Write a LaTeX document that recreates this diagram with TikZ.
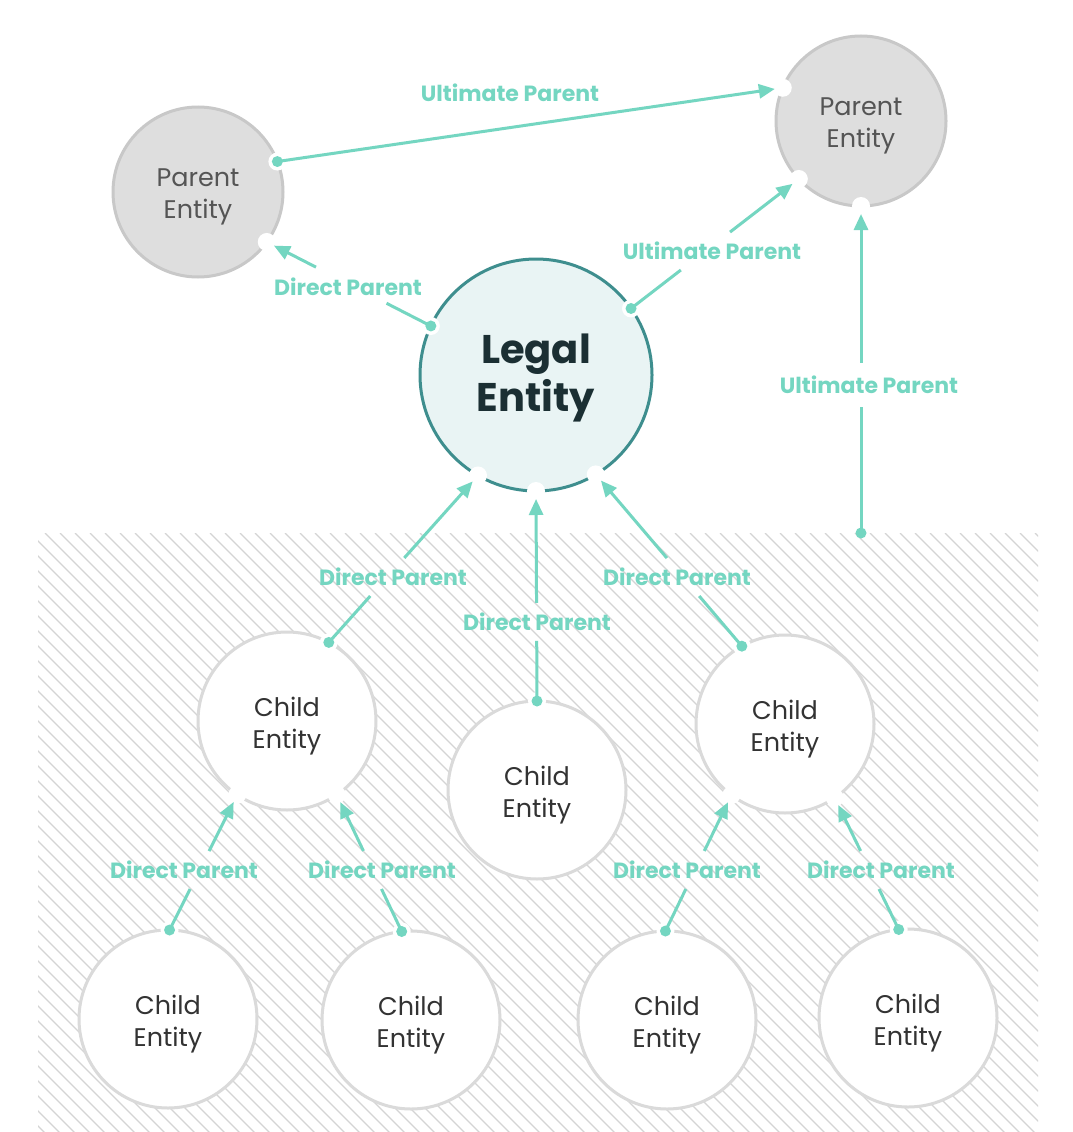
\documentclass[tikz,border=0pt]{standalone}
\usepackage{fontspec}
\setmainfont{Poppins}
\usetikzlibrary{arrows.meta,calc}
\definecolor{tl}{HTML}{74D6C1}
\definecolor{lefill}{HTML}{E9F4F4}
\definecolor{ledraw}{HTML}{3E8E8E}
\definecolor{letext}{HTML}{1B2F33}
\definecolor{pfill}{HTML}{DEDEDE}
\definecolor{pdraw}{HTML}{C8C8C8}
\definecolor{ptext}{HTML}{555555}
\definecolor{cdraw}{HTML}{DADADA}
\definecolor{ctext}{HTML}{333333}
\definecolor{hatchc}{HTML}{D4D4D4}
\newcommand{\drawlnk}[4]{%
  \draw[conn] (#1) -- ($(#1)!#3!(#2)$);
  \draw[arr] ($(#1)!#4!(#2)$) -- (#2);}
\begin{document}
\begin{tikzpicture}[x=1pt,y=-1pt,
  ent/.style={circle, inner sep=0pt, outer sep=0pt, line width=3pt},
  etxt/.style={align=center, inner sep=0pt, yshift=-5pt,
    font=\fontsize{25.5}{32}\selectfont},
  parent/.style={ent, minimum size=170pt, fill=pfill, draw=pdraw},
  child/.style={ent, minimum size=178pt, fill=white, draw=cdraw},
  legal/.style={ent, minimum size=232pt, fill=lefill, draw=ledraw},
  ptxt/.style={etxt, text=ptext},
  ctxt/.style={etxt, text=ctext},
  ltxt/.style={etxt, text=letext, yshift=2pt, font=\bfseries\fontsize{40}{48}\selectfont},
  lbl/.style={text=tl, font=\bfseries\fontsize{22}{24}\selectfont, inner sep=0pt},
  conn/.style={draw=tl, line width=3pt},
  arr/.style={conn, -{Triangle[length=16pt,width=14pt]}, shorten >=8pt},
  halo/.style={fill=white},
  hatch/.style={draw=hatchc, line width=1.3pt}]
\useasboundingbox (0,0) rectangle (1072,1132);
\fill[white] (0,0) rectangle (1072,1132);
% hatched region
\begin{scope}
  \clip (38,533) rectangle (1038,1132);
  \foreach \i in {-600,-585,...,1040} \draw[hatch] (\i,533) -- ++(620,620);
\end{scope}
% entities
\node[parent, label={[ptxt]center:Parent\\Entity}] (p1) at (198,192) {};
\node[parent, label={[ptxt]center:Parent\\Entity}] (p2) at (861,121) {};
\node[legal, label={[ltxt]center:Legal\\Entity}] (le) at (536,375) {};
\node[child, label={[ctxt]center:Child\\Entity}] (c1) at (287,721) {};
\node[child, label={[ctxt]center:Child\\Entity}] (c2) at (537,790) {};
\node[child, label={[ctxt]center:Child\\Entity}] (c3) at (785,724) {};
\node[child, label={[ctxt]center:Child\\Entity}] (c4) at (168,1019) {};
\node[child, label={[ctxt]center:Child\\Entity}] (c5) at (411,1020) {};
\node[child, label={[ctxt]center:Child\\Entity}] (c6) at (667,1020) {};
\node[child, label={[ctxt]center:Child\\Entity}] (c7) at (908,1018) {};
% end points
\coordinate (s1) at (p1.21);  \coordinate (t1) at (p2.157);
\coordinate (s2) at (le.155); \coordinate (t2) at (p1.-36);
\coordinate (s3) at (le.35);  \coordinate (t3) at (p2.223);
\coordinate (s4) at (861,533); \coordinate (t4) at (p2.270);
\coordinate (s5) at (c1.62);  \coordinate (t5) at (le.240);
\coordinate (s6) at (c2.90);  \coordinate (t6) at (le.270);
\coordinate (s7) at (c3.119); \coordinate (t7) at (le.301);
\coordinate (s8) at (c4.89);  \coordinate (t8) at (c1.236);
\coordinate (s9) at (c5.96);  \coordinate (t9) at (c1.304);
\coordinate (s10) at (c6.91); \coordinate (t10) at (c3.233);
\coordinate (s11) at (c7.96); \coordinate (t11) at (c3.304);
% halos
\foreach \p in {s1,t1,s2,t2,s3,t3,t4,s5,t5,s6,t6,s7,t7,s8,t8,s9,t9,s10,t10,s11,t11}
  \fill[halo] (\p) circle (9pt);
% connectors
\draw[arr] (s1) -- (t1);
\drawlnk{s2}{t2}{0.27}{0.70}
\drawlnk{s3}{t3}{0.297}{0.59}
\drawlnk{s4}{t4}{0.385}{0.52}
\drawlnk{s5}{t5}{0.278}{0.506}
\drawlnk{s6}{t6}{0.286}{0.467}
\drawlnk{s7}{t7}{0.292}{0.513}
\drawlnk{s8}{t8}{0.303}{0.584}
\drawlnk{s9}{t9}{0.311}{0.589}
\drawlnk{s10}{t10}{0.309}{0.589}
\drawlnk{s11}{t11}{0.307}{0.596}
\foreach \p in {s1,s2,s3,s4,s5,s6,s7,s8,s9,s10,s11}
  \fill[tl] (\p) circle (5.5pt);
% labels
\node[lbl] (l1) at (510,93) {Ultimate Parent};
\node[lbl] (l2) at (348,287) {Direct Parent};
\node[lbl] (l3) at (712,251) {Ultimate Parent};
\node[lbl] (l4) at (869,385) {Ultimate Parent};
\node[lbl] (l5) at (393,577) {Direct Parent};
\node[lbl] (l6) at (537,622) {Direct Parent};
\node[lbl] (l7) at (677,577) {Direct Parent};
\node[lbl] (l8) at (184,870) {Direct Parent};
\node[lbl] (l9) at (382,870) {Direct Parent};
\node[lbl] (l10) at (687,870) {Direct Parent};
\node[lbl] (l11) at (881,870) {Direct Parent};
\end{tikzpicture}
\end{document}
